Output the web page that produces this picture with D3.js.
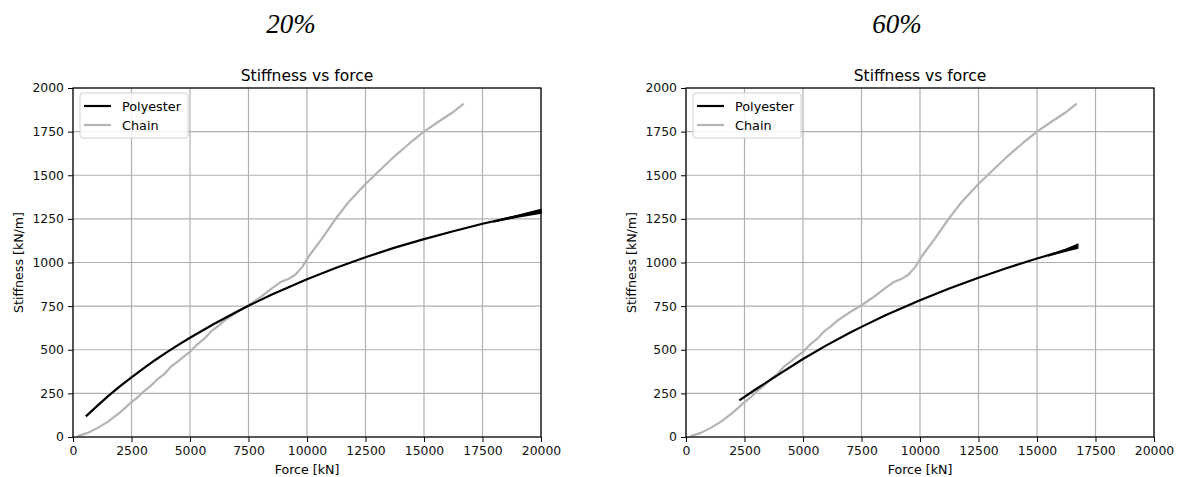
<!DOCTYPE html>
<html>
<head>
<meta charset="utf-8">
<script src="https://cdn.jsdelivr.net/npm/d3@7"></script>
<style>
body { margin: 0; background: white; }
</style>
</head>
<body>
<svg></svg>
<script>
var w = 1180
var h = 477

// data, [force kN, stiffness kN/m]
var chain = [[200,5],[600,22],[1000,48],[1500,88],[2000,140],[2500,200],[2800,232],[3000,258],[3300,290],
  [3600,330],[3900,360],[4200,405],[4500,435],[4800,468],[5000,488],[5300,530],[5600,562],[5900,605],
  [6200,635],[6500,670],[7000,715],[7500,755],[8000,800],[8500,852],[8900,890],[9200,905],[9500,930],
  [9800,975],[10100,1040],[10600,1130],[11250,1255],[11800,1350],[12500,1450],[13200,1540],[13750,1610],
  [14400,1685],[15000,1750],[15600,1805],[16200,1858],[16700,1910]]

var polyester20 = [[550,118],[1000,174],[1500,234],[2000,290],[2500,342],[3000,392],[3500,440],[4000,485],
  [4500,528],[5000,569],[6000,646],[7000,718],[7500,752],[8500,817],[10000,904],[11250,970],[12500,1030],
  [13750,1085],[15000,1134],[16250,1179],[17500,1222],[18750,1259],[20000,1294]]
// thick end of the polyester line (several cycles on top of each other)
var polyester20End = [[18000,1233,1237],[19000,1261,1270],[20000,1283,1304]]

var polyester60 = [[2280,210],[3000,275],[4000,362],[5000,447],[6000,525],[7000,597],[7500,631],
  [8500,696],[10000,784],[11250,851],[12500,913],[13750,970],[15000,1023],[16000,1062],[16740,1093]]
var polyester60End = [[15500,1039,1042],[16200,1065,1073],[16740,1082,1104]]

var xTicks = [0,2500,5000,7500,10000,12500,15000,17500,20000]
var yTicks = [0,250,500,750,1000,1250,1500,1750,2000]
var panelNames = ["20%", "60%"]
var seriesNames = ["Polyester", "Chain"]

var svg = d3.select("svg")
  .attr("width", w)
  .attr("height", h)
  .style("font-family", "DejaVu Sans")

var gridColor = "#b0b0b0"
var chainColor = "#b4b4b4"

function drawPanel(left, label, labelShift, poly, polyEnd){
  var top = 88, pw = 468, ph = 349

  var x = d3.scaleLinear().domain([0,20000]).range([left, left+pw])
  var y = d3.scaleLinear().domain([0,2000]).range([top+ph, top])

  var g = svg.append("g")

  // big italic label above the panel
  svg.append("text")
    .attr("x", left + pw/2 + labelShift)
    .attr("y", 33)
    .attr("text-anchor", "middle")
    .style("font-family", "Liberation Serif")
    .style("font-style", "italic")
    .style("font-size", "27px")
    .text(label)

  // grid
  g.selectAll(".gx").data(xTicks).join("line")
    .attr("x1", function(d){ return x(d) }).attr("x2", function(d){ return x(d) })
    .attr("y1", top).attr("y2", top+ph)
    .attr("stroke", gridColor).attr("stroke-width", 1.2)
  g.selectAll(".gy").data(yTicks).join("line")
    .attr("class","gy")
    .attr("x1", left).attr("x2", left+pw)
    .attr("y1", function(d){ return y(d) }).attr("y2", function(d){ return y(d) })
    .attr("stroke", gridColor).attr("stroke-width", 1.2)

  var line = d3.line()
    .x(function(d){ return x(d[0]) })
    .y(function(d){ return y(d[1]) })

  g.append("path")
    .attr("d", line(chain))
    .attr("fill", "none")
    .attr("stroke", chainColor)
    .attr("stroke-width", 2.2)
    .attr("stroke-linejoin", "round")

  g.append("path")
    .attr("d", line(poly))
    .attr("fill", "none")
    .attr("stroke", "black")
    .attr("stroke-width", 2.2)
    .attr("stroke-linejoin", "round")

  g.append("path")
    .attr("d", d3.area()
      .x(function(d){ return x(d[0]) })
      .y0(function(d){ return y(d[1]) })
      .y1(function(d){ return y(d[2]) })(polyEnd))
    .attr("fill", "black")
    .attr("stroke", "black")
    .attr("stroke-width", 1.5)

  // axes
  var xAxis = g.append("g")
    .attr("transform", "translate(0," + (top+ph) + ")")
    .call(d3.axisBottom(x).tickValues(xTicks).tickFormat(d3.format("d")).tickSize(5).tickPadding(4))
  var yAxis = g.append("g")
    .attr("transform", "translate(" + left + ",0)")
    .call(d3.axisLeft(y).tickValues(yTicks).tickFormat(d3.format("d")).tickSize(5).tickPadding(4))
  ;[xAxis, yAxis].forEach(function(a){
    a.selectAll("text").style("font-family", "DejaVu Sans").style("font-size", "12.4px").attr("fill", "#111")
    a.select(".domain").remove()
  })

  g.append("rect")
    .attr("x", left).attr("y", top)
    .attr("width", pw).attr("height", ph)
    .attr("fill", "none")
    .attr("stroke", "black")
    .attr("stroke-width", 1.2)

  svg.append("text")
    .attr("x", left + pw/2)
    .attr("y", 81)
    .attr("text-anchor", "middle")
    .style("font-size", "15.5px")
    .text("Stiffness vs force")

  svg.append("text")
    .attr("x", left + pw/2)
    .attr("y", 474)
    .attr("text-anchor", "middle")
    .style("font-size", "12.6px")
    .text("Force [kN]")

  svg.append("text")
    .attr("transform", "translate(" + (left - 50) + "," + (top + ph/2) + ") rotate(-90)")
    .attr("text-anchor", "middle")
    .style("font-size", "12.6px")
    .text("Stiffness [kN/m]")

  // legend
  var lg = svg.append("g").attr("transform", "translate(" + (left+7) + "," + (top+5) + ")")
  lg.append("rect")
    .attr("width", 108).attr("height", 45)
    .attr("rx", 3)
    .attr("fill", "white").attr("fill-opacity", 0.85)
    .attr("stroke", "#d0d0d0")
  lg.selectAll(".ln").data(seriesNames).join("line")
    .attr("x1", 4).attr("x2", 31)
    .attr("y1", function(d,i){ return 13 + i*19 }).attr("y2", function(d,i){ return 13 + i*19 })
    .attr("stroke", function(d,i){ return i == 0 ? "black" : chainColor })
    .attr("stroke-width", 2.2)
  lg.selectAll(".lt").data(seriesNames).join("text")
    .attr("x", 42)
    .attr("y", function(d,i){ return 17.5 + i*19 })
    .style("font-size", "12.8px")
    .text(function(d){ return d })
}

drawPanel(73, panelNames[0], -16, polyester20, polyester20End)
drawPanel(686, panelNames[1], -23, polyester60, polyester60End)
</script>
</body>
</html>
